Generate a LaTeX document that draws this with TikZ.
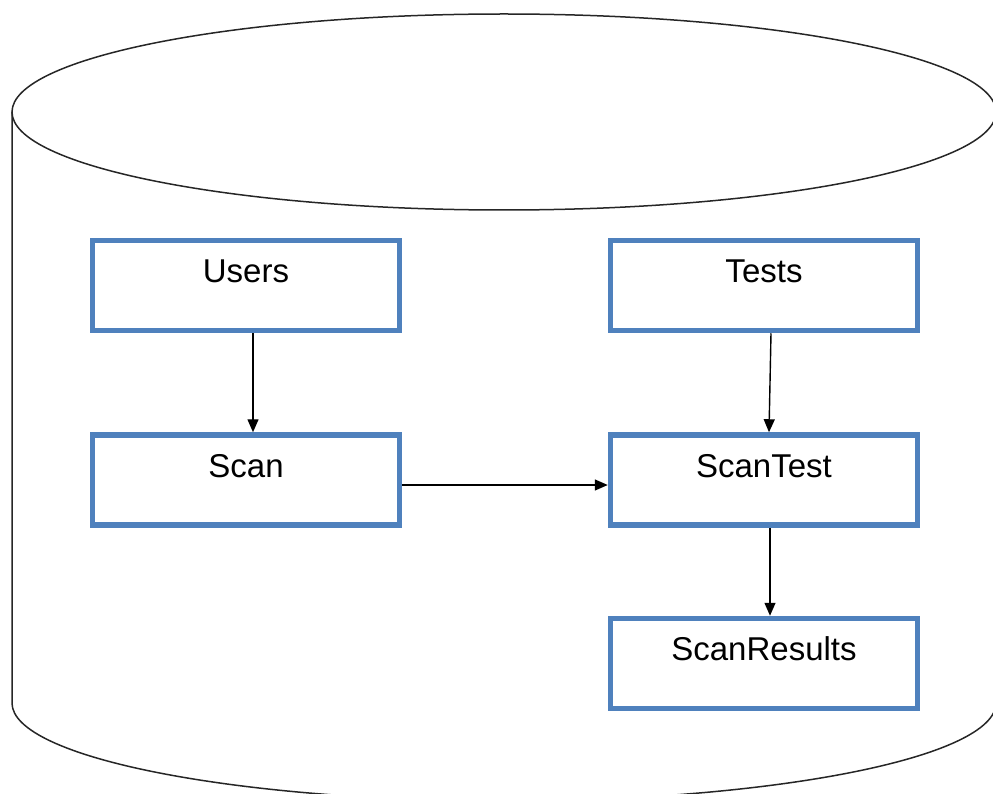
\documentclass[tikz,border=0pt]{standalone}
\usepackage{fontspec}
\setmainfont{Liberation Sans}
\usetikzlibrary{arrows.meta}
\definecolor{tblblue}{RGB}{79,129,189}
\begin{document}
\begin{tikzpicture}[x=1pt,y=-1pt,
  tbl/.style={draw=tblblue, line width=5.5pt, rectangle, minimum width=307pt,
    minimum height=90pt, inner sep=0pt, font=\fontsize{33}{38}\selectfont,
    text height=23pt, text depth=29pt},
  arr/.style={-{Triangle[length=13pt,width=11pt]}, line width=1.4pt, black},
  cyl/.style={line width=1.5pt, black!85}]
\clip (0,0) rectangle (993,794);
% cylinder
\draw[cyl] (504,112) ellipse [x radius=492, y radius=98];
\draw[cyl] (12,112) -- (12,703) arc[start angle=180, end angle=0, x radius=492, y radius=98] -- (996,112);
% tables
\node[tbl] (users) at (246,285.5) {Users};
\node[tbl] (tests) at (764,285.5) {Tests};
\node[tbl] (scan) at (246,480) {Scan};
\node[tbl] (scantest) at (764,480) {ScanTest};
\node[tbl] (scanres) at (764,663.5) {ScanResults};
% connectors
\draw[arr] ([xshift=7pt]users.south) -- ([xshift=7pt]scan.north);
\draw[arr] ([xshift=7pt]tests.south) -- ([xshift=5pt]scantest.north);
\draw[arr] ([yshift=-5pt]scan.east) -- ([yshift=-5pt]scantest.west);
\draw[arr] ([xshift=6pt]scantest.south) -- ([xshift=6pt]scanres.north);
\end{tikzpicture}
\end{document}
